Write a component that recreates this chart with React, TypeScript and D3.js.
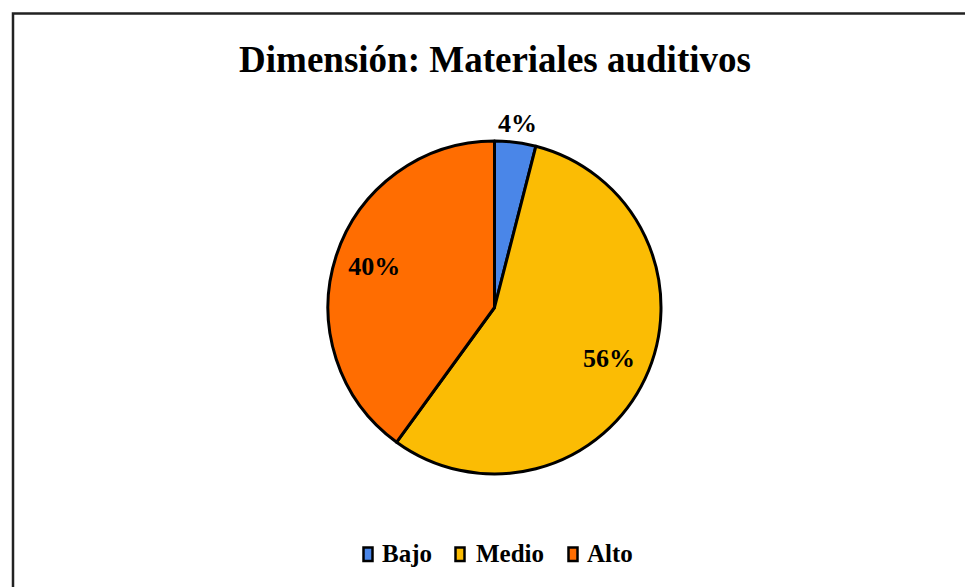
import * as React from 'react'
import * as d3 from 'd3'

const categories = ['Bajo', 'Medio', 'Alto']
const values = [4, 56, 40]
const colors = ['#4A86E8', '#FBBC04', '#FF6D01']
const title = 'Dimensión: Materiales auditivos'

const W = 965
const H = 587
const cx = 494.5
const cy = 307.5
const radius = 166.5
const font = '"Liberation Serif", "Times New Roman", serif'

export default function App() {
    const data = categories.map((c, i) => ({ name: c, value: values[i], color: colors[i] }))
    const pie = d3.pie<{ name: string, value: number, color: string }>()
        .sort(null)
        .value(d => d.value)
    const arcs = pie(data)
    const arc = d3.arc<d3.PieArcDatum<any>>().innerRadius(0).outerRadius(radius)
    const labelArc = (r: number) => d3.arc<d3.PieArcDatum<any>>().innerRadius(r).outerRadius(r)

    // legend layout: square x, text x
    const legendPos = [[363.5, 382], [455.5, 476], [568.5, 587]]

    return (
        <svg width={W} height={H} style={{ position: 'absolute', left: 0, top: 0 }}>
            <rect x={0} y={0} width={W} height={H} fill='#fff' />
            <rect x={13} y={13.5} width={W} height={H} fill='#fff' stroke='#222' strokeWidth={2.5} />
            <text x={495} y={72} textAnchor='middle' fontFamily={font} fontWeight='bold' fontSize={37} fill='#000'>
                {title}
            </text>
            <g transform={`translate(${cx},${cy})`}>
                {arcs.map((a, i) => (
                    <path key={i} d={arc(a) || ''} fill={a.data.color} stroke='#000' strokeWidth={3} strokeLinejoin='round' />
                ))}
                {arcs.map((a, i) => {
                    const small = a.data.value < 10
                    const [lx, ly] = labelArc(small ? radius * 1.1 : radius * 0.76).centroid(a)
                    return (
                        <text key={'l' + i} x={lx} y={ly - 3} dy='0.35em' textAnchor='middle'
                            fontFamily={font} fontWeight='bold' fontSize={26} fill='#000'>
                            {a.data.value + '%'}
                        </text>
                    )
                })}
            </g>
            {categories.map((name, i) => (
                <g key={name}>
                    <rect x={legendPos[i][0]} y={547.5} width={9} height={13.5} fill={colors[i]} stroke='#000' strokeWidth={2.5} />
                    <text x={legendPos[i][1]} y={562} fontFamily={font} fontWeight='bold' fontSize={25} fill='#000'>
                        {name}
                    </text>
                </g>
            ))}
        </svg>
    )
}
